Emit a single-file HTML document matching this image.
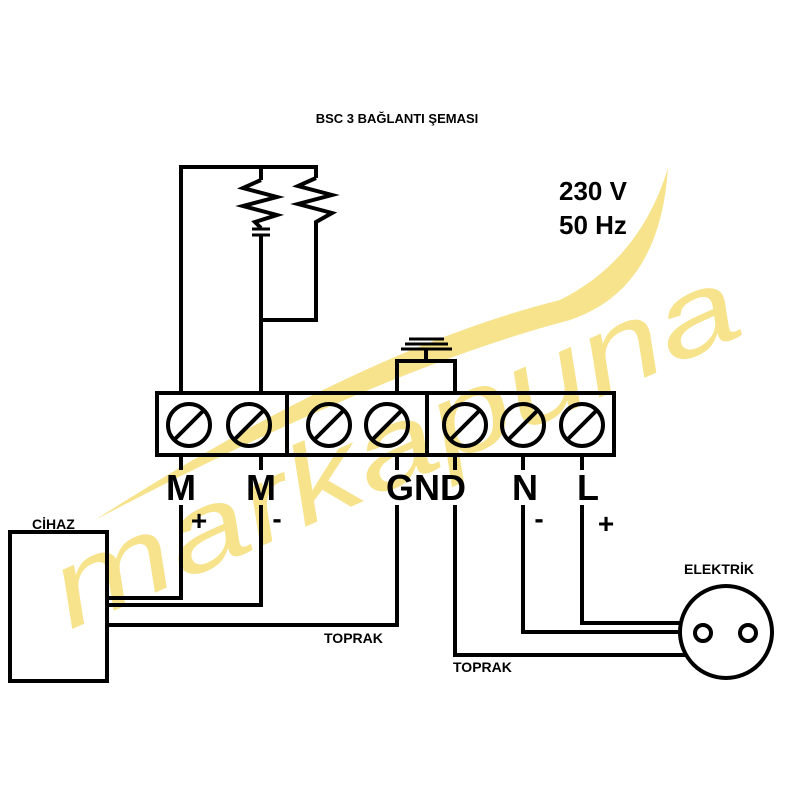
<!DOCTYPE html>
<html><head><meta charset="utf-8"><style>html,body{margin:0;padding:0;background:#fff}svg{display:block}</style></head>
<body>
<svg width="800" height="800" viewBox="0 0 800 800" xmlns="http://www.w3.org/2000/svg" font-family="Liberation Sans, sans-serif">
<rect width="800" height="800" fill="#fff"/>
<path d="M95,520 Q360,350 560,300 Q640,260 668,168 Q660,290 570,320 Q380,370 95,520 Z" fill="#f6e38c"/>
<path id="wm" d="M70,630 L765,325" fill="none"/>
<text font-size="110" fill="#f6e38c" font-style="italic"><textPath href="#wm" textLength="740" lengthAdjust="spacingAndGlyphs">markapuna</textPath></text>

<text x="397" y="123" font-size="13" font-weight="bold" text-anchor="middle">BSC 3 BAĞLANTI ŞEMASI</text>
<text x="559" y="200" font-size="26" font-weight="bold">230 V</text>
<text x="559" y="234" font-size="26" font-weight="bold">50 Hz</text>

<g stroke="#000" stroke-width="4" fill="none">
<polyline points="181,393 181,167 316,167 316,178"/>
<line x1="261" y1="167" x2="261" y2="180"/>
<polyline points="261,180 243,188 277,197 243,206 277,215 255,222 261,228"/>
<polyline points="316,178 298,186 332,195 298,204 332,213 316,222 316,320 261,320"/>
<line x1="261" y1="235" x2="261" y2="393"/>
<line x1="252" y1="229" x2="270" y2="229" stroke-width="3"/>
<line x1="252" y1="235" x2="270" y2="235" stroke-width="3"/>
<rect x="157" y="393" width="457" height="62"/>
<line x1="287" y1="393" x2="287" y2="455"/>
<line x1="427" y1="393" x2="427" y2="455"/>
<polyline points="397,393 397,361 455,361 455,393"/>
<line x1="426" y1="361" x2="426" y2="349"/>
<line x1="401" y1="349" x2="452" y2="349" stroke-width="3"/>
<line x1="405" y1="344" x2="448" y2="344" stroke-width="3"/>
<line x1="409" y1="339" x2="444" y2="339" stroke-width="3"/>
</g>
<g stroke="#000" stroke-width="4" fill="none">
<circle cx="189" cy="425" r="21"/><line x1="174" y1="440" x2="204" y2="410"/>
<circle cx="249" cy="425" r="21"/><line x1="234" y1="440" x2="264" y2="410"/>
<circle cx="329" cy="425" r="21"/><line x1="314" y1="440" x2="344" y2="410"/>
<circle cx="387" cy="425" r="21"/><line x1="372" y1="440" x2="402" y2="410"/>
<circle cx="465" cy="425" r="21"/><line x1="450" y1="440" x2="480" y2="410"/>
<circle cx="523" cy="425" r="21"/><line x1="508" y1="440" x2="538" y2="410"/>
<circle cx="582" cy="425" r="21"/><line x1="567" y1="440" x2="597" y2="410"/>
</g>
<g font-size="36" font-weight="bold" text-anchor="middle">
<text x="181" y="500">M</text><text x="261" y="500">M</text>
<text x="426" y="500">GND</text><text x="525" y="500">N</text><text x="588" y="500">L</text>
</g>
<g font-size="28" font-weight="bold" text-anchor="middle">
<text x="199" y="530">+</text><text x="277" y="528">-</text>
<text x="539" y="528">-</text><text x="606" y="533">+</text>
</g>
<g stroke="#000" stroke-width="4" fill="none">
<polyline points="181,455 181,470"/><polyline points="181,505 181,598 107,598"/>
<polyline points="261,455 261,470"/><polyline points="261,505 261,605 107,605"/>
<polyline points="397,455 397,470"/><polyline points="397,505 397,625 107,625"/>
<polyline points="455,455 455,470"/><polyline points="455,505 455,655 685,655"/>
<polyline points="523,455 523,470"/><polyline points="523,505 523,632 682,632"/>
<polyline points="582,455 582,470"/><polyline points="582,505 582,623 682,623"/>
<rect x="10" y="532" width="97" height="149"/>
<circle cx="726" cy="632" r="46"/>
<circle cx="703" cy="633" r="8"/><circle cx="748" cy="633" r="8"/>
</g>
<g font-size="14" font-weight="bold">
<text x="32" y="529">CİHAZ</text>
<text x="324" y="643">TOPRAK</text>
<text x="453" y="672">TOPRAK</text>
<text x="684" y="574">ELEKTRİK</text>
</g>
</svg>
</body></html>
